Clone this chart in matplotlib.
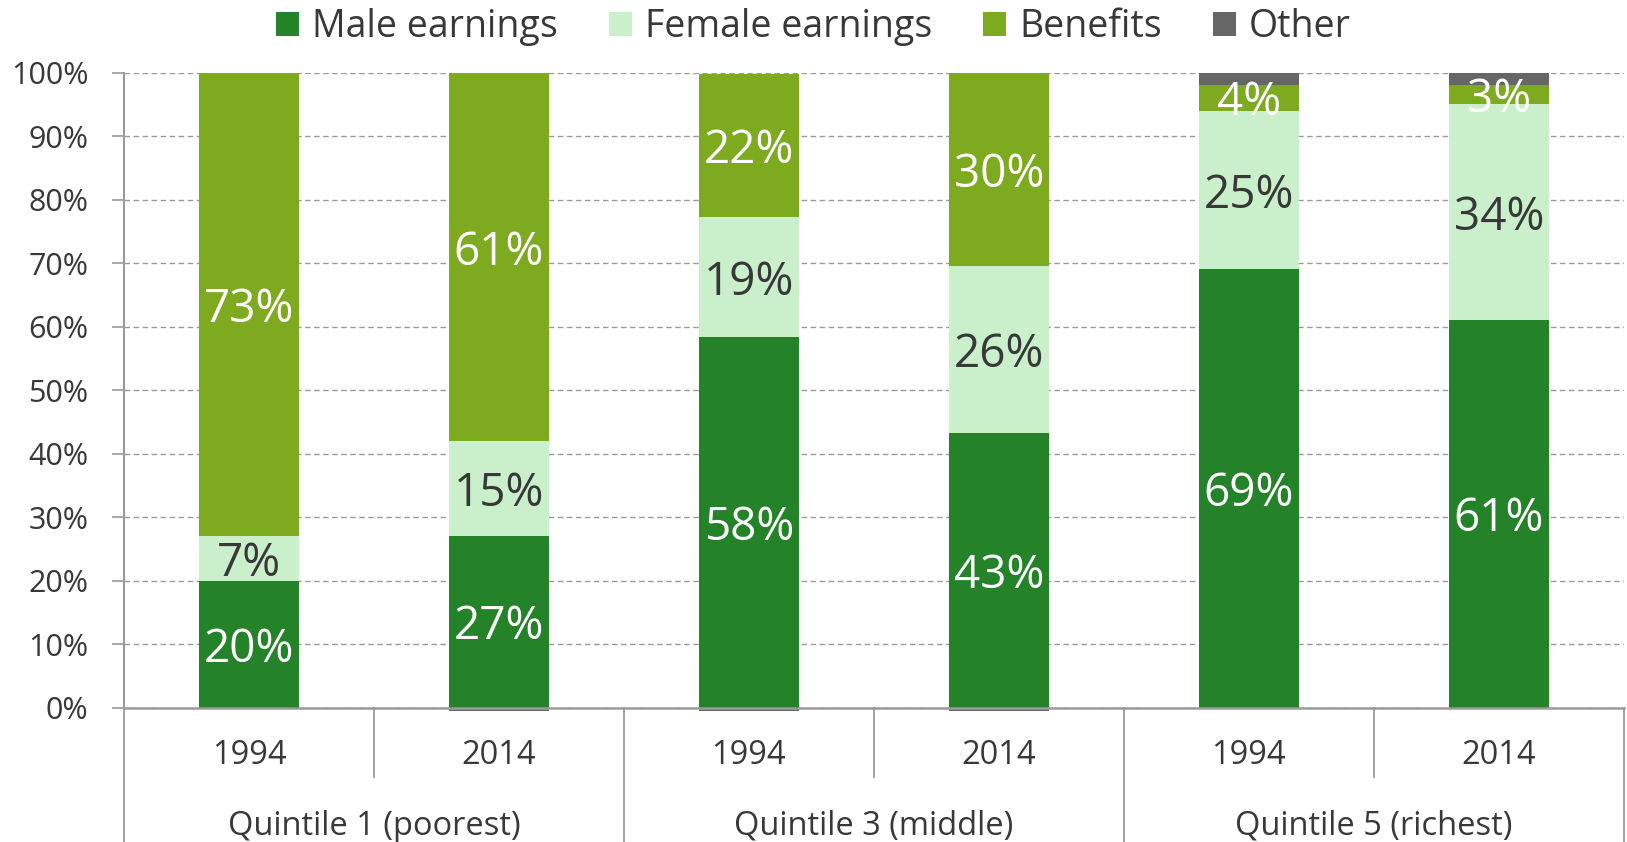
import numpy as np
import matplotlib
matplotlib.use("Agg")
import matplotlib.pyplot as plt

plt.rcParams['font.family'] = ['Open Sans', 'DejaVu Sans']

# datos (porcentaje del ingreso del hogar)
groups = ['Quintile 1 (poorest)', 'Quintile 3 (middle)', 'Quintile 5 (richest)']
years = ['1994', '2014', '1994', '2014', '1994', '2014']
male = [20, 27, 58.3, 43.2, 69, 61]
female = [7, 15, 19.0, 26.3, 25, 34]
benefits = [73, 61, 22.4, 30.4, 4, 3]
other = [0, -0.6, -0.6, -0.6, 2, 2]

c_male = '#248229'
c_female = '#c9efcb'
c_benef = '#7eaa1f'
c_other = '#666666'
txt = '#383838'
gris = '#9a9a9a'

fig = plt.figure(figsize=(16.27, 8.42), dpi=100)
ax = fig.add_axes([0.0762, 0.1597, 0.9218, 0.7541])

x = np.arange(len(years))
w = 0.4
male = np.array(male)
female = np.array(female)
benefits = np.array(benefits)
other = np.array(other)

b1 = ax.bar(x, male, w, color=c_male, zorder=3, label='Male earnings')
b2 = ax.bar(x, female, w, bottom=male, color=c_female, zorder=3, label='Female earnings')
b3 = ax.bar(x, benefits, w, bottom=male + female, color=c_benef, zorder=3, label='Benefits')
base_o = np.where(other > 0, male + female + benefits, 0)
b4 = ax.bar(x, other, w, bottom=base_o, color=c_other, zorder=2, label='Other', clip_on=False)

# etiquetas de los segmentos
for i in range(len(x)):
    ax.text(x[i], male[i] / 2, f"{male[i]:.0f}%", ha='center', va='center_baseline',
            color='white', fontsize=33, zorder=5)
    ax.text(x[i], male[i] + female[i] / 2, f"{female[i]:.0f}%", ha='center',
            va='center_baseline', color=txt, fontsize=33, zorder=5)
    ax.text(x[i], male[i] + female[i] + benefits[i] / 2, f"{benefits[i]:.0f}%",
            ha='center', va='center_baseline', color='white', fontsize=33, zorder=5)

ax.set_xlim(-0.5, len(x) - 0.5)
ax.set_ylim(0, 100)
ax.set_yticks(np.arange(0, 101, 10))
ax.set_yticklabels([f"{v}%" for v in range(0, 101, 10)])
ax.tick_params(axis='y', labelsize=22, labelcolor=txt, color=gris, length=8.5, width=1.2, pad=17)
ax.set_xticks([])

ax.grid(axis='y', color=gris, linestyle=(0, (4, 2.5)), linewidth=1.0, zorder=0)
for s in ['top', 'right']:
    ax.spines[s].set_visible(False)
ax.spines['left'].set_color(gris)
ax.spines['left'].set_linewidth(1.5)
ax.spines['bottom'].set_color(gris)
ax.spines['bottom'].set_linewidth(1.8)
ax.spines['bottom'].set_zorder(4)

# eje de categorias en dos niveles
tr = ax.get_xaxis_transform()
for k in range(len(x) + 1):
    xb = k - 0.5
    if k % 2 == 0:
        ax.plot([xb, xb], [0, -0.22], color=gris, lw=1.3, transform=tr, clip_on=False)
    else:
        ax.plot([xb, xb], [0, -0.11], color=gris, lw=1.3, transform=tr, clip_on=False)
for i in range(len(x)):
    ax.text(x[i], -0.0756, years[i], ha='center', va='center', fontsize=23.5,
            color=txt, transform=tr)
for g in range(len(groups)):
    ax.text(2 * g + 0.5, -0.187, groups[g], ha='center', va='center', fontsize=23.5,
            color=txt, transform=tr)

fig.legend(handles=[b1, b2, b3, b4], loc='center', bbox_to_anchor=(0.5, 0.968),
           ncol=4, frameon=False, fontsize=27, handlelength=0.62, handleheight=0.62,
           handletextpad=0.35, columnspacing=1.35, labelcolor=txt, borderpad=0)

fig.savefig('out.png', dpi=100)
